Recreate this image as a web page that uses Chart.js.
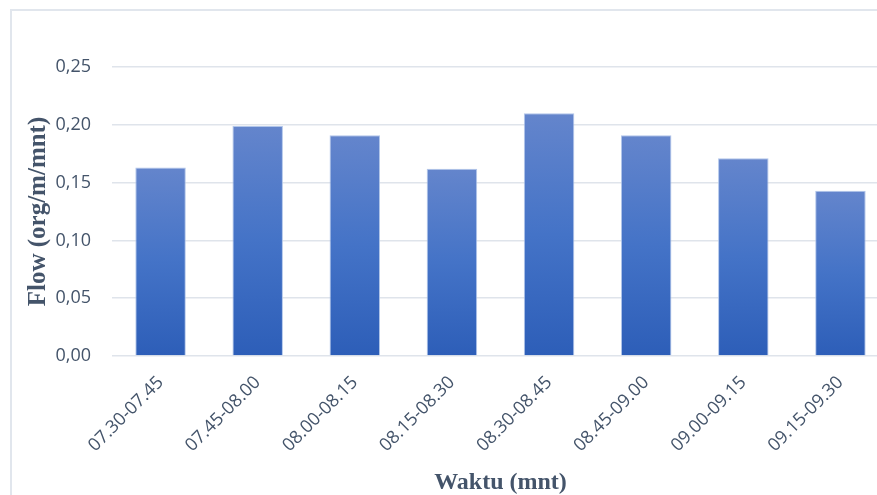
<!DOCTYPE html>
<html>
<head>
<meta charset="utf-8">
<title>Flow per interval waktu</title>
<script src="https://cdn.jsdelivr.net/npm/chart.js@4.4.1/dist/chart.umd.min.js"></script>
<style>
  html, body { margin: 0; padding: 0; background: #ffffff; overflow: hidden; width: 877px; height: 495px; }
  #wrap { position: absolute; left: 0; top: 0; width: 900px; height: 495px; }
  #frameTop { position: absolute; left: 10px; top: 9px; width: 900px; height: 2px; background: #e1e6ed; }
  #frameLeft { position: absolute; left: 10px; top: 9px; width: 2px; height: 500px; background: #e1e6ed; }
</style>
</head>
<body>
<div id="wrap"><canvas id="chart" width="900" height="495"></canvas></div>
<div id="frameTop"></div>
<div id="frameLeft"></div>
<script>
// Interval waktu pengamatan (15 menit)
const categories = [
  '07.30-07.45', '07.45-08.00', '08.00-08.15', '08.15-08.30',
  '08.30-08.45', '08.45-09.00', '09.00-09.15', '09.15-09.30'
];
// Flow (org/m/mnt) per interval
const flowValues = [0.163, 0.199, 0.191, 0.162, 0.210, 0.191, 0.171, 0.143];
// Y-axis ticks
const yTicks = [0, 0.05, 0.10, 0.15, 0.20, 0.25];

const textColor = '#44546a';

// vertical gradient per bar: lighter top, darker base
function barGradient(ctx) {
  const chart = ctx.chart;
  const area = chart.chartArea;
  if (!area || ctx.raw === undefined) return '#4472c4';
  const y = chart.scales.y;
  const top = y.getPixelForValue(ctx.raw);
  const base = y.getPixelForValue(0);
  if (!isFinite(top) || !isFinite(base) || top === base) return '#4472c4';
  const g = chart.ctx.createLinearGradient(0, top, 0, base);
  g.addColorStop(0, '#6485cc');
  g.addColorStop(0.5, '#4473c7');
  g.addColorStop(1, '#2d5eb8');
  return g;
}

new Chart(document.getElementById('chart'), {
  type: 'bar',
  data: {
    labels: categories,
    datasets: [{
      label: 'Flow',
      data: flowValues,
      backgroundColor: barGradient,
      borderColor: 'rgba(170,192,232,0.9)',
      borderWidth: 1,
      barPercentage: 0.52,
      categoryPercentage: 1.0
    }]
  },
  options: {
    responsive: false,
    animation: false,
    devicePixelRatio: 1,
    layout: { padding: { top: 67, right: 11, left: 0, bottom: 0 } },
    plugins: {
      legend: { display: false },
      tooltip: { enabled: false }
    },
    scales: {
      x: {
        grid: { display: false },
        border: { display: false },
        ticks: {
          color: textColor,
          font: { family: 'Open Sans', size: 18 },
          minRotation: 45,
          maxRotation: 45,
          padding: 8
        },
        title: {
          display: true,
          text: 'Waktu (mnt)',
          color: textColor,
          font: { family: 'Liberation Serif', size: 24, weight: 'bold', lineHeight: 1 },
          padding: { top: 0, bottom: 0 }
        },
        afterFit: (scale) => { scale.height = 139; }
      },
      y: {
        min: 0,
        max: 0.25,
        afterBuildTicks: (scale) => { scale.ticks = yTicks.map(v => ({ value: v })); },
        grid: { color: '#dfe4eb', lineWidth: 1.5, drawTicks: false },
        border: { display: false },
        ticks: {
          color: textColor,
          font: { family: 'Open Sans', size: 18 },
          padding: 21,
          callback: (v) => Number(v).toFixed(2).replace('.', ',')
        },
        title: {
          display: true,
          text: 'Flow (org/m/mnt)',
          color: textColor,
          font: { family: 'Liberation Serif', size: 25, weight: 'bold', lineHeight: 1 },
          padding: { top: 26, bottom: 0 }
        },
        afterFit: (scale) => { scale.width = 112; }
      }
    }
  }
});
</script>
</body>
</html>
